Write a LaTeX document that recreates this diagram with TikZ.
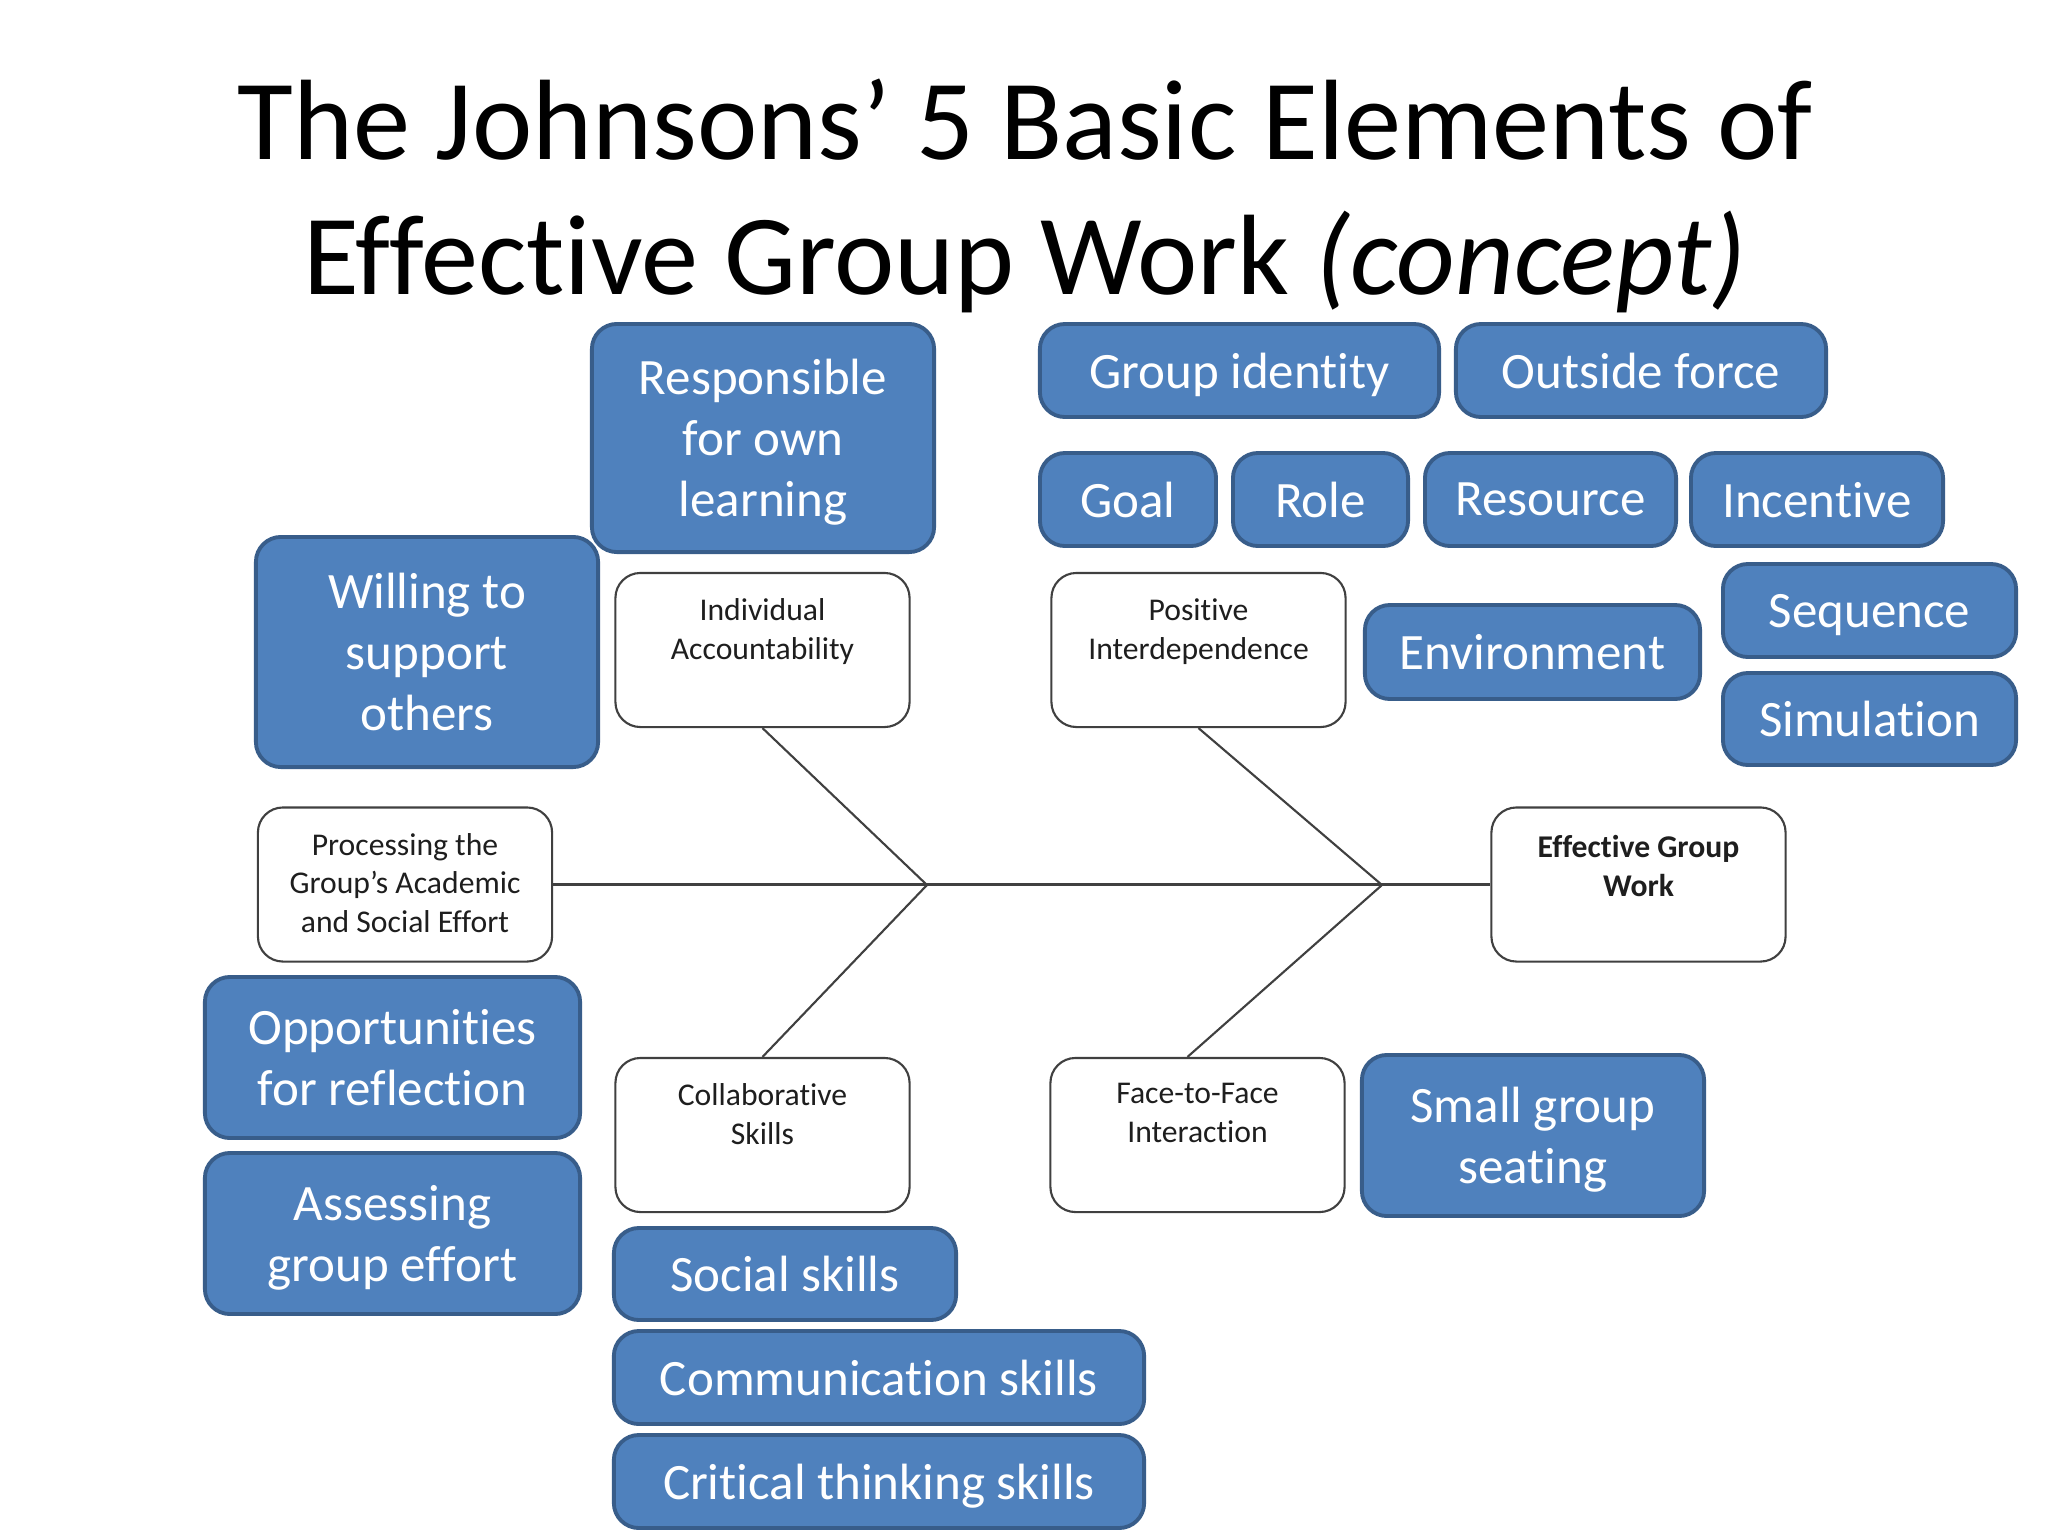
\documentclass[tikz,border=0pt]{standalone}
\usepackage{fontspec}
\setmainfont{Carlito}[Ligatures={NoCommon,NoContextual}]
\usetikzlibrary{calc}
\definecolor{bfill}{HTML}{4F81BD}
\definecolor{bborder}{HTML}{385D8A}
\definecolor{wborder}{HTML}{404040}
\definecolor{wtext}{HTML}{1E1E1E}
\begin{document}
\begin{tikzpicture}[x=0.01cm,y=-0.01cm,
  bluebox/.style={draw=bborder, fill=bfill, line width=1.1pt, rounded corners=0.25cm,
    text=white, font=\fontsize{14.5}{17.3}\selectfont, align=center, inner sep=0pt,
    text depth=0pt},
  whitebox/.style={draw=wborder, fill=white, line width=0.6pt, rounded corners=0.25cm,
    inner sep=0pt, minimum width=2.94cm, minimum height=1.54cm},
  wlab/.style={font=\fontsize{9}{11}\selectfont, align=center, text=wtext,
    anchor=north, inner sep=0pt},
  bone/.style={draw=wborder, line width=0.6pt},
  titletext/.style={font=\fontsize{32.5}{38.4}\selectfont, anchor=base, inner sep=0pt}]
\useasboundingbox[fill=white] (0,0) rectangle (2048,1536);

% title
\node[titletext] (t1) at (1025,159) {The Johnsons’ 5 Basic Elements of};
\node[titletext] (t2) at (1025,294) {Effective Group Work \textit{(concept)}};

% white boxes
\node[whitebox] (ia) at (762.5,650) {};
\node[whitebox] (pi) at (1198.5,650) {};
\node[whitebox] (proc) at (405,884.5) {};
\node[whitebox] (egw) at (1638.5,884.5) {};
\node[whitebox] (cs) at (762.5,1135) {};
\node[whitebox] (ff) at (1197.5,1135) {};

\node[wlab] (ial) at ([yshift=-0.26cm]ia.north) {Individual\\Accountability};
\node[wlab] (pil) at ([yshift=-0.26cm]pi.north) {Positive\\Interdependence};
\node[wlab] (procl) at ([yshift=-0.26cm]proc.north) {Processing the\\Group’s Academic\\and Social Effort};
\node[wlab, font=\fontsize{9}{11}\selectfont\bfseries] (egwl) at ([yshift=-0.28cm]egw.north) {Effective Group\\Work};
\node[wlab] (csl) at ([yshift=-0.26cm]cs.north) {Collaborative\\Skills};
\node[wlab] (ffl) at ([yshift=-0.26cm]ff.north) {Face-to-Face\\Interaction};

% fishbone
\coordinate (j1) at (927,885);
\coordinate (j2) at (1382,885);
\draw[bone] (proc.east) -- (egw.west);
\draw[bone] (ia.south) -- (j1) -- (cs.north);
\draw[bone] (pi.south) -- (j2) -- ([xshift=-0.1cm]ff.north);

% blue boxes
\node[bluebox, minimum width=3.42cm, minimum height=2.28cm] (resp) at (763,438) {Responsible\\for own\\learning};
\node[bluebox, minimum width=3.99cm, minimum height=0.93cm] (gid) at (1239.5,370.5) {Group identity};
\node[bluebox, minimum width=3.70cm, minimum height=0.93cm] (out) at (1641,370.5) {Outside force};
\node[bluebox, minimum width=1.76cm, minimum height=0.93cm] (goal) at (1128,499.5) {Goal};
\node[bluebox, minimum width=1.75cm, minimum height=0.93cm] (role) at (1320.5,499.5) {Role};
\node[bluebox, minimum width=2.51cm, minimum height=0.93cm] (res) at (1550.5,499.5) {Resource};
\node[bluebox, minimum width=2.52cm, minimum height=0.93cm] (inc) at (1817,499.5) {Incentive};
\node[bluebox, minimum width=2.93cm, minimum height=0.93cm] (seq) at (1869.5,610.5) {Sequence};
\node[bluebox, minimum width=2.93cm, minimum height=0.92cm] (sim) at (1869.5,719) {Simulation};
\node[bluebox, minimum width=3.35cm, minimum height=0.94cm] (env) at (1532.5,652) {Environment};
\node[bluebox, minimum width=3.42cm, minimum height=2.30cm] (will) at (427,652) {Willing to\\support\\others};
\node[bluebox, minimum width=3.75cm, minimum height=1.61cm] (opp) at (392.5,1057.5) {Opportunities\\for reflection};
\node[bluebox, minimum width=3.75cm, minimum height=1.61cm] (ass) at (392.5,1233.5) {Assessing\\group effort};
\node[bluebox, minimum width=3.42cm, minimum height=1.61cm] (sgs) at (1533,1135.5) {Small group\\seating};
\node[bluebox, minimum width=3.42cm, minimum height=0.92cm] (soc) at (785,1274) {Social skills};
\node[bluebox, minimum width=5.30cm, minimum height=0.93cm] (com) at (879,1377.5) {Communication skills};
\node[bluebox, minimum width=5.30cm, minimum height=0.93cm] (crit) at (879,1481.5) {Critical thinking skills};
\end{tikzpicture}
\end{document}
